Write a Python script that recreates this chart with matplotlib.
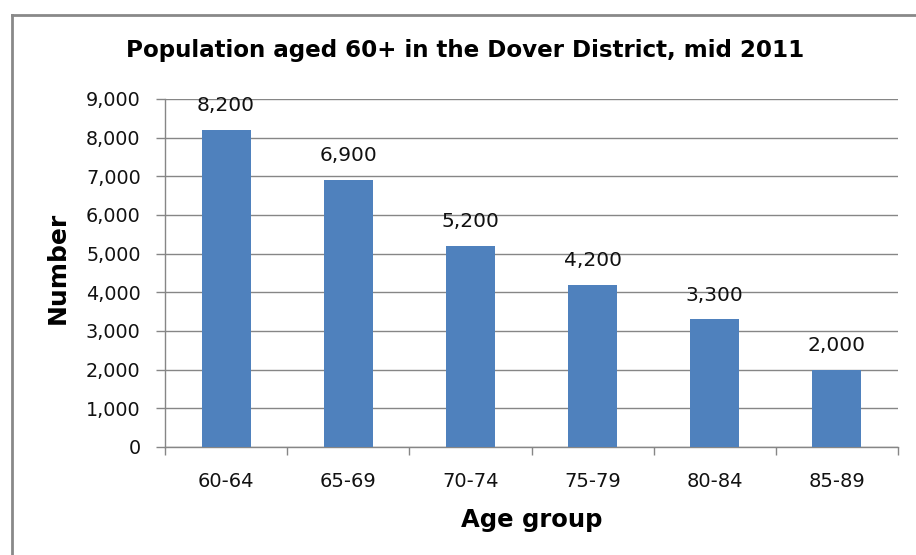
import matplotlib
matplotlib.use("Agg")
import matplotlib.pyplot as plt
from matplotlib.lines import Line2D
from matplotlib.ticker import FuncFormatter, FixedLocator

# Data
age_groups = ["60-64", "65-69", "70-74", "75-79", "80-84", "85-89"]
population = [8200, 6900, 5200, 4200, 3300, 2000]
y_ticks = list(range(0, 9001, 1000))

title_text = "Population aged 60+ in the Dover District, mid 2011"
x_label = "Age group"
y_label = "Number"

BAR_COLOR = "#4F81BD"
GRID_COLOR = "#868686"
BORDER_COLOR = "#898989"
TEXT_COLOR = "#111111"

plt.rcParams["font.family"] = ["DejaVu Sans"]

W, H = 916, 555
AX_L, AX_R, AX_T, AX_B = 165, 898, 99, 447

fig = plt.figure(figsize=(W / 100, H / 100), dpi=100)
ax = fig.add_axes([AX_L / W, 1 - AX_B / H, (AX_R - AX_L) / W, (AX_B - AX_T) / H])

x = range(len(age_groups))
ax.bar(x, population, width=0.4, color=BAR_COLOR, zorder=3)

# value labels above bars
for xi, val in zip(x, population):
    ax.annotate(f"{val:,}", (xi, val), xytext=(0, 13.5), textcoords="offset points",
                ha="center", va="baseline", fontsize=14.5, color=TEXT_COLOR)

ax.set_xlim(-0.5, len(age_groups) - 0.5)
ax.set_ylim(0, 9000)
ax.yaxis.set_major_locator(FixedLocator(y_ticks))
ax.yaxis.set_major_formatter(FuncFormatter(lambda v, _: f"{int(v):,}"))
ax.grid(axis="y", color=GRID_COLOR, linewidth=1, zorder=0)

# x: labels at category centres, tick marks at category boundaries
ax.set_xticks(list(x))
ax.set_xticklabels(age_groups, fontsize=14, color=TEXT_COLOR)
ax.tick_params(axis="x", length=0, pad=18)
ax.set_xticks([i - 0.5 for i in range(len(age_groups) + 1)], minor=True)
ax.tick_params(axis="x", which="minor", length=6, width=1, color=GRID_COLOR, direction="out")

ax.tick_params(axis="y", length=6.5, width=1, color=GRID_COLOR, direction="out",
               labelsize=13.8, pad=11, labelcolor=TEXT_COLOR)

for side in ["top", "right"]:
    ax.spines[side].set_visible(False)
for side in ["left", "bottom"]:
    ax.spines[side].set_color(GRID_COLOR)
    ax.spines[side].set_linewidth(1)

ax.set_xlabel(x_label, fontsize=17.5, fontweight="bold", color="black")
ax.xaxis.label.set_va("baseline")
ax.xaxis.set_label_coords(0.5, -(527 - AX_B) / (AX_B - AX_T))

ax.set_ylabel(y_label, fontsize=18, fontweight="bold", color="black")
ax.yaxis.label.set_va("center")
ax.yaxis.set_label_coords((58 - AX_L) / (AX_R - AX_L), (AX_B - 268) / (AX_B - AX_T))

fig.text(465 / W, 1 - 57 / H, title_text, ha="center", va="baseline",
         fontsize=16.6, fontweight="bold", color="black")

# chart-area border (only top and left edges visible in the reference)
fig.add_artist(Line2D([12 / W, 12 / W], [0, 1 - 15 / H], transform=fig.transFigure,
                      color=BORDER_COLOR, linewidth=2))
fig.add_artist(Line2D([12 / W, 1], [1 - 15 / H, 1 - 15 / H], transform=fig.transFigure,
                      color=BORDER_COLOR, linewidth=2))

fig.savefig("out.png", dpi=100)
